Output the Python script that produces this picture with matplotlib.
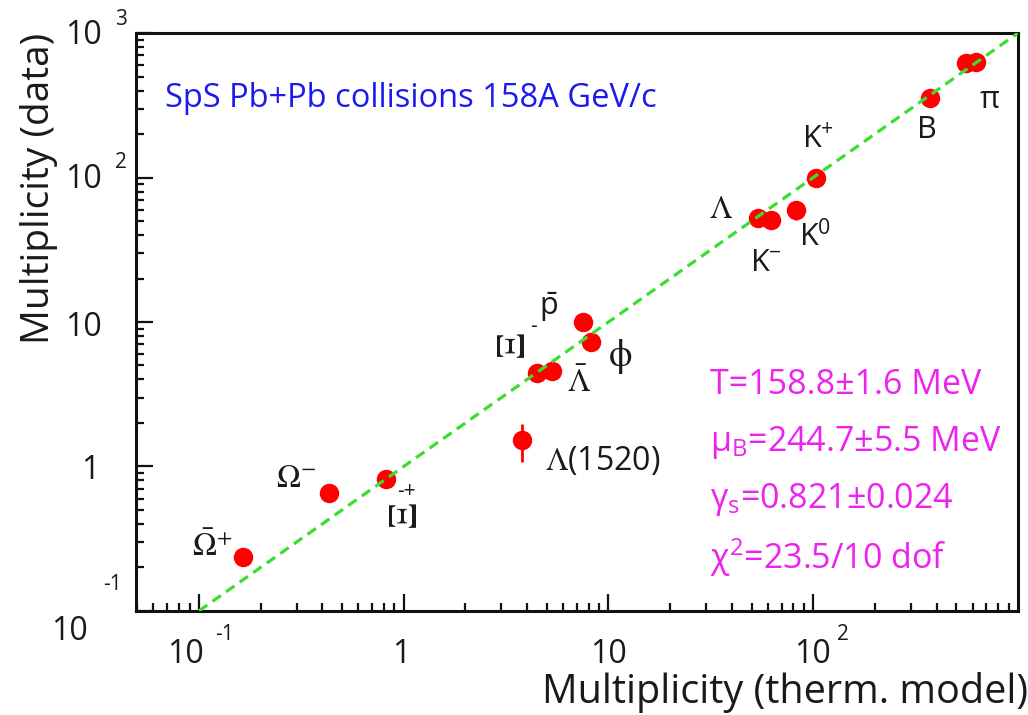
import numpy as np
import matplotlib
matplotlib.use("Agg")
import matplotlib.pyplot as plt
from matplotlib.ticker import FixedLocator, NullFormatter, LogLocator

plt.rcParams['font.family'] = ['Open Sans', 'DejaVu Sans']
plt.rcParams['mathtext.fontset'] = 'custom'
plt.rcParams['mathtext.rm'] = 'Open Sans'
plt.rcParams['mathtext.it'] = 'Open Sans:italic'
plt.rcParams['mathtext.bf'] = 'Open Sans:bold'

# Thermal model prediction vs measured multiplicity
x_model = [0.164, 0.434, 0.82, 3.78, 4.47, 5.28, 7.55, 8.26,
           53.5, 62.0, 82.0, 103.0, 373.0, 555.0, 620.0]
y_data = [0.237, 0.656, 0.82, 1.52, 4.43, 4.55, 10.0, 7.3,
          52.5, 50.8, 59.6, 99.0, 355.0, 625.0, 630.0]
y_err = [0.03, 0.07, 0.05, 0.45, 0.3, 0.3, 0.6, 0.8,
         3.0, 3.0, 9.0, 5.0, 20.0, 30.0, 30.0]

fit_text = ["T=158.8±1.6 MeV",
            "μ$_{\\rm B}$=244.7±5.5 MeV",
            "γ$_{\\rm s}$=0.821±0.024",
            "χ$^{2}$=23.5/10 dof"]

x_ticks = [0.1, 1, 10, 100]
y_ticks = [0.1, 1, 10, 100, 1000]

fig = plt.figure(figsize=(10.28, 7.15), dpi=100)
ax = fig.add_axes([0.1323, 0.1455, 0.8580, 0.8083])
ax.set_xscale('log')
ax.set_yscale('log')
ax.set_xlim(0.0493, 1000)
ax.set_ylim(0.1, 1000)

# y = x line
ax.plot([0.1, 1000], [0.1, 1000], color='#3ade2e', lw=2.3,
        dashes=(3.2, 2.0), zorder=3)

ax.errorbar(x_model, y_data, yerr=y_err, fmt='o', color='#ff0000',
            ms=13, mec='#ff0000', elinewidth=2, capsize=0, zorder=2)

greek = ['STIXGeneral', 'DejaVu Serif']
sans = ['Open Sans', 'DejaVu Sans']

# particle labels: (text, point index, dx, dy in pixels, family, size, rotation)
labels = [
    (r'$\bar{\Omega}^{+}$', 0, -31, 9, 'stix', 23, 0),
    (r'$\Omega^{-}$', 1, -33, 14, 'stix', 23, 0),
    ('Ξ', 2, 20, -35, 'greek', 29, 90),
    ('-+', 2, 20, -13, 'sans', 15, 0),
    (r'$\Lambda$(1520)', 3, 81, -21, 'stix', 23, 0),
    ('Ξ', 4, -23, 29, 'greek', 29, 90),
    ('-', 4, -3, 47, 'sans', 15, 0),
    (r'$\bar{\Lambda}$', 5, 27, -12, 'stix', 23, 0),
    (r'$\bar{\rm p}$', 6, -35, 15, 'custom', 22, 0),
    ('ϕ', 7, 29, -15, 'greek', 27, 0),
    ('Λ', 8, -37, 8, 'greek', 23, 0),
    (r'K$^{-}$', 9, -5, -43, 'custom', 22, 0),
    (r'K$^{0}$', 10, 19, -27, 'custom', 22, 0),
    (r'K$^{+}$', 11, 2, 38, 'custom', 22, 0),
    ('B', 12, -3, -32, 'custom', 22, 0),
    ('π', 14, 14, -38, 'custom', 22, 0),
]
for txt, i, dx, dy, fam, size, rot in labels:
    if fam == 'greek':
        kw = dict(family=greek)
    elif fam == 'sans':
        kw = dict(family=sans)
    else:
        kw = dict(family=sans, math_fontfamily=fam)
    ax.annotate(txt, (x_model[i], y_data[i]), xytext=(dx, dy),
                textcoords='offset pixels', ha='center', va='center',
                fontsize=size, rotation=rot, color='#1a1a1a', zorder=4, **kw)

ax.text(0.033, 0.8875, 'SpS Pb+Pb collisions 158A GeV/c', transform=ax.transAxes,
        fontsize=23.5, color='#1a1aee', ha='left', va='center')

for k, line in enumerate(fit_text):
    ax.text(0.651, 0.391 - k * 0.0993, line, transform=ax.transAxes,
            fontsize=24.5, color='#ee22ee', ha='left', va='center')

# axis styling
for s in ax.spines.values():
    s.set_linewidth(2.2)
    s.set_color('#111111')

for axis, ticks in ((ax.xaxis, x_ticks), (ax.yaxis, y_ticks)):
    axis.set_major_locator(FixedLocator(ticks))
    axis.set_major_formatter(NullFormatter())
    axis.set_minor_locator(LogLocator(base=10, subs=np.arange(2, 10)))
    axis.set_minor_formatter(NullFormatter())

ax.tick_params(which='major', direction='in', length=12.5, width=1.6,
               color='#111111', top=False, right=False)
ax.tick_params(which='minor', direction='in', length=6, width=1.6,
               color='#111111', top=False, right=False)

# tick labels drawn as "10" with a detached exponent
x_lab = [('10', '-1', -13, 26), ('1', '', -2, 0), ('10', '', 0, 0), ('10', '2', -1, 30)]
for val, (base, ex, bdx, edx) in zip(x_ticks, x_lab):
    ax.annotate(base, (val, 0), xycoords=ax.get_xaxis_transform(),
                xytext=(bdx, -44), textcoords='offset pixels',
                ha='center', va='center', fontsize=23, color='#1a1a1a',
                annotation_clip=False)
    if ex:
        ax.annotate(ex, (val, 0), xycoords=ax.get_xaxis_transform(),
                    xytext=(edx, -24), textcoords='offset pixels',
                    ha='center', va='center', fontsize=15, color='#1a1a1a',
                    annotation_clip=False)

y_lab = [('10', '-1', -67, -21, -24, 26), ('1', '', -46, -4, 0, 0),
         ('10', '', -53, -5, 0, 0), ('10', '2', -53, -2, -15, 15),
         ('10', '3', -53, -2, -15, 14)]
for val, (base, ex, bdx, bdy, edx, edy) in zip(y_ticks, y_lab):
    ax.annotate(base, (0, val), xycoords=ax.get_yaxis_transform(),
                xytext=(bdx, bdy), textcoords='offset pixels',
                ha='center', va='center', fontsize=23, color='#1a1a1a',
                annotation_clip=False)
    if ex:
        ax.annotate(ex, (0, val), xycoords=ax.get_yaxis_transform(),
                    xytext=(edx, edy), textcoords='offset pixels',
                    ha='center', va='center', fontsize=15, color='#1a1a1a',
                    annotation_clip=False)

ax.set_xlabel('Multiplicity (therm. model)', fontsize=28.5, color='#1a1a1a',
              loc='right')
ax.xaxis.set_label_coords(1.012, -0.1055)
ax.xaxis.label.set_va('top')
ax.set_ylabel('Multiplicity (data)', fontsize=28, color='#1a1a1a', loc='top')
ax.yaxis.set_label_coords(-0.088, 1.0)

fig.savefig('out.png', dpi=100)
